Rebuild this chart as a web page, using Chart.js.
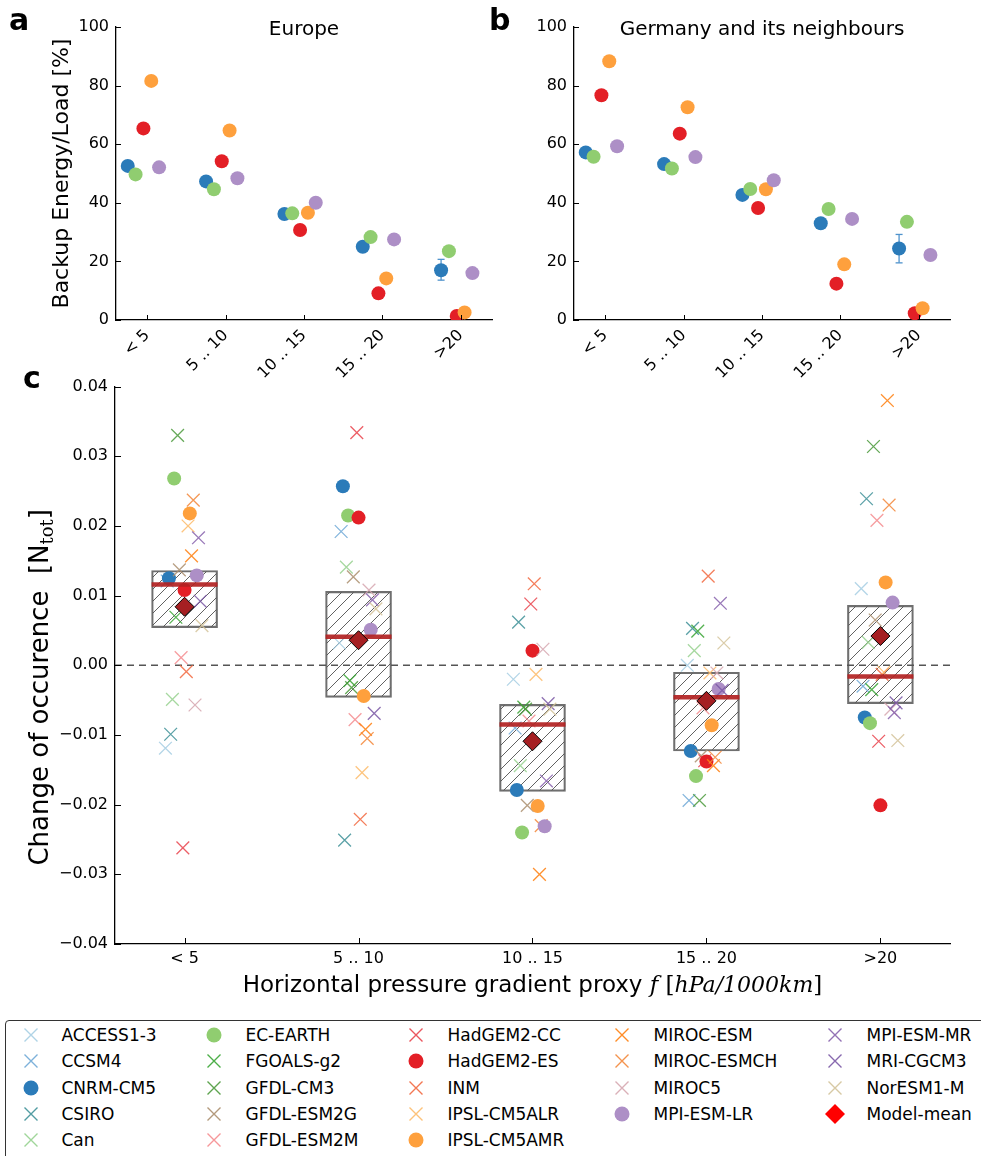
<!DOCTYPE html>
<html lang="en">
<head>
<meta charset="UTF-8">
<title>Backup energy and pressure gradient proxy</title>
<script src="https://cdn.jsdelivr.net/npm/chart.js@4.4.0/dist/chart.umd.min.js"></script>
<style>
  body { margin: 0; background: #fff; font-family: 'DejaVu Sans', sans-serif; }
  #page { position: relative; width: 981px; height: 1156px; overflow: hidden; }
  canvas.plot { position: absolute; }
  .letter { position: absolute; font-weight: bold; font-size: 30px; line-height: 30px; }
  #legend { position: absolute; left: 5px; top: 1020px; width: 990px; height: 150px;
            border: 1.5px solid #333; border-radius: 4px; box-sizing: border-box; }
  .leg-text { position: absolute; font-size: 17px; line-height: 20px; white-space: nowrap; color: #000; }
  .leg-mark { position: absolute; }
</style>
</head>
<body>
<div id="page">
  <canvas id="chartC" class="plot" width="981" height="640" style="left:0;top:370px"></canvas>
  <canvas id="chartA" class="plot" width="500" height="390" style="left:0;top:0"></canvas>
  <canvas id="chartB" class="plot" width="491" height="390" style="left:490px;top:0"></canvas>
  <div class="letter" style="left:9px;top:5px">a</div>
  <div class="letter" style="left:489px;top:5px">b</div>
  <div class="letter" style="left:23px;top:363px">c</div>
  <div id="legend"></div>
</div>

<script>
// ---- data ----
const catLabels = ['< 5', '5 .. 10', '10 .. 15', '15 .. 20', '>20'];

// panels a and b: models with backup energy values (%)
const backupModels = ['CNRM-CM5', 'EC-EARTH', 'HadGEM2-ES', 'IPSL-CM5AMR', 'MPI-ESM-LR'];
const europeBackup = [
  [52.6, 47.3, 36.2, 25.0, 17.0],
  [49.7, 44.6, 36.4, 28.3, 23.5],
  [65.4, 54.2, 30.7, 9.1, 1.4],
  [81.6, 64.7, 36.6, 14.2, 2.6],
  [52.1, 48.4, 40.0, 27.5, 16.0]
];
const germanyBackup = [
  [57.2, 53.2, 42.7, 33.0, 24.4],
  [55.7, 51.7, 44.7, 37.9, 33.5],
  [76.7, 63.6, 38.2, 12.4, 2.3],
  [88.3, 72.6, 44.6, 19.0, 4.0],
  [59.3, 55.6, 47.7, 34.5, 22.2]
];
// error bars (CNRM-CM5 only)
const europeErrLow  = [null, null, null, null, 13.6];
const europeErrHigh = [null, null, null, null, 20.7];
const germanyErrLow  = [null, null, null, null, 19.5];
const germanyErrHigh = [null, null, null, null, 29.2];

// panel c: change of occurrence per model
const models = ['ACCESS1-3', 'CCSM4', 'CNRM-CM5', 'CSIRO', 'Can', 'EC-EARTH', 'FGOALS-g2',
  'GFDL-CM3', 'GFDL-ESM2G', 'GFDL-ESM2M', 'HadGEM2-CC', 'HadGEM2-ES', 'INM', 'IPSL-CM5ALR',
  'IPSL-CM5AMR', 'MIROC-ESM', 'MIROC-ESMCH', 'MIROC5', 'MPI-ESM-LR', 'MPI-ESM-MR',
  'MRI-CGCM3', 'NorESM1-M'];
const occurrence = [
  [-0.0119, 0.0032, -0.0020, 0.0000, 0.0110],
  [0.0121, 0.0192, -0.0090, -0.0194, -0.0030],
  [0.0125, 0.0257, -0.0179, -0.0123, -0.0075],
  [-0.0099, -0.0251, 0.0062, 0.0053, 0.0239],
  [-0.0049, 0.0141, -0.0144, 0.0021, 0.0033],
  [0.0268, 0.0215, -0.0240, -0.0159, -0.0083],
  [0.0069, -0.0022, -0.0060, 0.0049, -0.0035],
  [0.0330, -0.0032, -0.0063, -0.0194, 0.0314],
  [0.0137, 0.0127, -0.0201, -0.0130, 0.0065],
  [0.0011, -0.0078, -0.0080, -0.0061, 0.0208],
  [-0.0262, 0.0334, 0.0088, -0.0137, -0.0109],
  [0.0108, 0.0212, 0.0021, -0.0138, -0.0201],
  [-0.0009, -0.0221, 0.0117, 0.0128, -0.0013],
  [0.0200, -0.0154, -0.0013, -0.0011, -0.0010],
  [0.0218, -0.0044, -0.0202, -0.0086, 0.0119],
  [0.0157, -0.0092, -0.0300, -0.0144, 0.0380],
  [0.0237, -0.0105, -0.0230, -0.0132, 0.0230],
  [-0.0057, 0.0108, 0.0023, -0.0011, -0.0063],
  [0.0129, 0.0051, -0.0231, -0.0034, 0.0090],
  [0.0183, 0.0094, -0.0166, 0.0089, -0.0068],
  [0.0092, -0.0069, -0.0055, -0.0036, -0.0054],
  [0.0057, 0.0081, -0.0063, 0.0032, -0.0108]
];
const boxQ1 = [0.0054, -0.0046, -0.0181, -0.0123, -0.0055];
const boxQ3 = [0.0136, 0.0106, -0.0056, -0.0010, 0.0086];
const boxMedian = [0.0116, 0.0041, -0.0085, -0.0046, -0.0016];
const modelMean = [0.0084, 0.0036, -0.0109, -0.0051, 0.0042];

// ---- styles ----
const modelColors = ['#a6cee3', '#6fa8d6', '#2b7bb9', '#3e9198', '#96d18f', '#90cd70', '#38a534',
  '#4b9a3c', '#ab8f6e', '#f58c8f', '#e9434c', '#e31f26', '#f2683f', '#fdbb6a', '#fea03d',
  '#ff7f0e', '#f3873a', '#d6a7b0', '#ad8fc6', '#8762ad', '#7a58a5', '#d3c39a'];
const circleModels = ['CNRM-CM5', 'EC-EARTH', 'HadGEM2-ES', 'IPSL-CM5AMR', 'MPI-ESM-LR'];
const SANS = "'DejaVu Sans', sans-serif";
const SERIF = "'DejaVu Serif', serif";

function rgba(hex, a) {
  const n = parseInt(hex.slice(1), 16);
  return `rgba(${n >> 16},${(n >> 8) & 255},${n & 255},${a})`;
}
function colorOf(name) { return modelColors[models.indexOf(name)]; }

function makeHatch() {
  const s = 12, c = document.createElement('canvas');
  c.width = s; c.height = s;
  const g = c.getContext('2d');
  g.strokeStyle = 'rgba(70,70,70,0.85)';
  g.lineWidth = 1;
  g.beginPath();
  g.moveTo(0, s); g.lineTo(s, 0);
  g.moveTo(-s / 2, s / 2); g.lineTo(s / 2, -s / 2);
  g.moveTo(s / 2, s * 1.5); g.lineTo(s * 1.5, s / 2);
  g.stroke();
  return g.createPattern(c, 'repeat');
}

// draw text made of several font runs, centered at (cx, cy)
function drawRich(ctx, parts, cx, cy) {
  let w = 0;
  parts.forEach(p => { ctx.font = p.font; p.w = ctx.measureText(p.t).width; w += p.w; });
  let x = cx - w / 2;
  ctx.textBaseline = 'alphabetic';
  ctx.textAlign = 'left';
  parts.forEach(p => { ctx.font = p.font; ctx.fillText(p.t, x, cy + (p.dy || 0)); x += p.w; });
}

const inwardTicks = {
  id: 'inwardTicks',
  afterDatasetsDraw(chart, args, opts) {
    const { ctx, chartArea: a, scales: { x, y } } = chart;
    const len = opts.length || 5;
    ctx.save();
    ctx.strokeStyle = '#000';
    ctx.lineWidth = 1;
    ctx.beginPath();
    x.ticks.forEach(t => {
      const px = Math.round(x.getPixelForValue(t.value)) + 0.5;
      ctx.moveTo(px, a.bottom); ctx.lineTo(px, a.bottom - len);
    });
    y.ticks.forEach(t => {
      const py = Math.round(y.getPixelForValue(t.value)) + 0.5;
      ctx.moveTo(a.left, py); ctx.lineTo(a.left + len, py);
    });
    ctx.stroke();
    ctx.restore();
  }
};

const catAxis = (fit, rotate) => ({
  type: 'linear', min: -0.4, max: 4.4, offset: false,
  afterBuildTicks: axis => { axis.ticks = catLabels.map((_, i) => ({ value: i })); },
  afterFit: s => { s.height = fit; },
  grid: { display: true, drawOnChartArea: false, drawTicks: false, offset: false },
  border: { display: true, color: '#000', width: 1.3 },
  ticks: {
    color: '#000', font: { family: SANS, size: 16 }, padding: rotate ? 6 : 5,
    minRotation: rotate ? 45 : 0, maxRotation: rotate ? 45 : 0, autoSkip: false,
    callback: v => catLabels[v]
  }
});

function backupChart(id, values, errLow, errHigh, title, yTitle, yWidth, padRight) {
  const datasets = [];
  backupModels.forEach((name, j) => {
    datasets.push({
      label: name,
      data: values[j].map((v, c) => ({ x: c + (j - 2.5) * 0.1, y: v })),
      pointStyle: 'circle', pointRadius: 7,
      pointBackgroundColor: colorOf(name), pointBorderWidth: 0,
      order: 50 - j
    });
  });
  // error bars for the first model
  errLow.forEach((lo, c) => {
    if (lo === null) return;
    datasets.push({
      type: 'line', showLine: true,
      data: [{ x: c - 0.25, y: lo }, { x: c - 0.25, y: errHigh[c] }],
      borderColor: '#4f93cc', borderWidth: 1.3,
      pointStyle: 'line', pointRadius: 3.5, pointBorderColor: '#4f93cc', pointBorderWidth: 1.3,
      order: 100
    });
  });

  const labels = {
    id: 'panelText',
    afterDraw(chart) {
      const { ctx, chartArea: a } = chart;
      ctx.save();
      ctx.fillStyle = '#000';
      drawRich(ctx, [{ t: title, font: `20px ${SANS}` }], (a.left + a.right) / 2, a.top + 8);
      if (yTitle) {
        ctx.translate(a.left - 56, (a.top + a.bottom) / 2);
        ctx.rotate(-Math.PI / 2);
        drawRich(ctx, [{ t: yTitle, font: `22px ${SANS}` }], 0, 8);
      }
      ctx.restore();
    }
  };

  return new Chart(document.getElementById(id), {
    type: 'scatter',
    data: { datasets },
    options: {
      responsive: false, animation: false, events: [],
      layout: { autoPadding: false, padding: { left: 0, right: padRight, top: 27, bottom: 0 } },
      plugins: { legend: { display: false }, tooltip: { enabled: false }, inwardTicks: { length: 5 } },
      scales: {
        x: catAxis(70, true),
        y: {
          min: 0, max: 100,
          afterFit: s => { s.width = yWidth; },
          grid: { display: true, drawOnChartArea: false, drawTicks: false },
          border: { display: true, color: '#000', width: 1.3 },
          ticks: { stepSize: 20, color: '#000', font: { family: SANS, size: 16 }, padding: 7 }
        }
      }
    },
    plugins: [inwardTicks, labels]
  });
}

backupChart('chartA', europeBackup, europeErrLow, europeErrHigh, 'Europe', 'Backup Energy/Load [%]', 116, 8);
backupChart('chartB', germanyBackup, germanyErrLow, germanyErrHigh, 'Germany and its neighbours', null, 84, 31);

// ---- panel c ----
const cSets = models.map((name, i) => {
  const isCircle = circleModels.includes(name);
  return {
    label: name,
    data: occurrence[i].map((v, c) => ({ x: c + (i - 11) * 0.01, y: v })),
    pointStyle: isCircle ? 'circle' : 'crossRot',
    pointRadius: isCircle ? 7 : 9,
    pointBackgroundColor: modelColors[i],
    pointBorderColor: isCircle ? modelColors[i] : rgba(modelColors[i], 0.85),
    pointBorderWidth: isCircle ? 0 : 1.3,
    order: 100 - i
  };
});
cSets.push({
  type: 'bar', label: 'box',
  data: boxQ1.map((lo, c) => ({ x: c, y: [lo, boxQ3[c]] })),
  backgroundColor: makeHatch(), borderColor: 'rgba(95,95,95,0.9)', borderWidth: 1.5,
  borderSkipped: false, barThickness: 66, grouped: false, order: 300
});
cSets.push({
  type: 'line', label: 'zero', showLine: true,
  data: [{ x: -0.4, y: 0 }, { x: 4.4, y: 0 }],
  borderColor: '#555', borderWidth: 1.6, borderDash: [7, 5], pointRadius: 0, order: 200
});
cSets.push({
  label: 'median',
  data: boxMedian.map((v, c) => ({ x: c, y: v })),
  pointStyle: 'line', pointRadius: 33,
  pointBorderColor: 'rgba(178,34,34,0.92)', pointBorderWidth: 4.5, order: 2
});
cSets.push({
  label: 'Model-mean',
  data: modelMean.map((v, c) => ({ x: c, y: v })),
  pointStyle: 'rectRot', pointRadius: 9.5,
  pointBackgroundColor: '#a51f22', pointBorderColor: '#000', pointBorderWidth: 1, order: 1
});

const cText = {
  id: 'cText',
  afterDraw(chart) {
    const { ctx, chartArea: a } = chart;
    ctx.save();
    ctx.fillStyle = '#000';
    drawRich(ctx, [
      { t: 'Horizontal pressure gradient proxy ', font: `23px ${SANS}` },
      { t: 'f', font: `italic 23px ${SERIF}` },
      { t: ' [', font: `23px ${SERIF}` },
      { t: 'hPa/1000km', font: `italic 22px ${SERIF}` },
      { t: ']', font: `23px ${SERIF}` }
    ], (a.left + a.right) / 2, a.bottom + 48);
    ctx.translate(a.left - 76, (a.top + a.bottom) / 2 + 22);
    ctx.rotate(-Math.PI / 2);
    drawRich(ctx, [
      { t: 'Change of occurence  [', font: `26px ${SANS}` },
      { t: 'N', font: `26px ${SANS}` },
      { t: 'tot', font: `18px ${SERIF}`, dy: 5 },
      { t: ']', font: `26px ${SANS}` }
    ], 0, 9);
    ctx.restore();
  }
};

new Chart(document.getElementById('chartC'), {
  type: 'scatter',
  data: { datasets: cSets },
  options: {
    responsive: false, animation: false, events: [],
    layout: { autoPadding: false, padding: { left: 0, right: 31, top: 14, bottom: 0 } },
    plugins: { legend: { display: false }, tooltip: { enabled: false }, inwardTicks: { length: 6 } },
    scales: {
      x: catAxis(66, false),
      y: {
        min: -0.04, max: 0.04,
        afterFit: s => { s.width = 115; },
        grid: { display: true, drawOnChartArea: false, drawTicks: false },
        border: { display: true, color: '#000', width: 1.3 },
        ticks: {
          stepSize: 0.01, color: '#000', font: { family: SANS, size: 16 }, padding: 7,
          callback: v => (v < -1e-9 ? '\u2212' : '') + Math.abs(v).toFixed(2)
        }
      }
    }
  },
  plugins: [inwardTicks, cText]
});

// ---- legend (column-major, 5 columns) ----
const legendItems = models.map((name, i) => ({
  name, color: modelColors[i], style: circleModels.includes(name) ? 'circle' : 'cross'
}));
legendItems.push({ name: 'Model-mean', color: '#ff0000', style: 'diamond' });
const colSizes = [5, 5, 5, 4, 4];
const markX = [31, 214, 416, 622, 835];
const textX = [62, 246, 448, 654, 867];
const legend = document.getElementById('legend');
const legLeft = 5 + 1.5, legTop = 1020 + 1.5;
let k = 0;
colSizes.forEach((n, col) => {
  for (let row = 0; row < n; row++, k++) {
    const it = legendItems[k];
    const cy = 1035.5 + row * 26.3;
    const cv = document.createElement('canvas');
    cv.width = 24; cv.height = 24; cv.className = 'leg-mark';
    cv.style.left = (markX[col] - 12 - legLeft) + 'px';
    cv.style.top = (cy - 12 - legTop) + 'px';
    const g = cv.getContext('2d');
    if (it.style === 'circle') {
      g.fillStyle = it.color; g.beginPath(); g.arc(12, 12, 7.5, 0, Math.PI * 2); g.fill();
    } else if (it.style === 'cross') {
      g.strokeStyle = rgba(it.color, 0.9); g.lineWidth = 1.4; g.beginPath();
      g.moveTo(5.5, 5.5); g.lineTo(18.5, 18.5); g.moveTo(18.5, 5.5); g.lineTo(5.5, 18.5); g.stroke();
    } else {
      g.fillStyle = it.color; g.beginPath();
      g.moveTo(12, 2); g.lineTo(22, 12); g.lineTo(12, 22); g.lineTo(2, 12); g.closePath(); g.fill();
    }
    legend.appendChild(cv);
    const sp = document.createElement('div');
    sp.className = 'leg-text';
    sp.textContent = it.name;
    sp.style.left = (textX[col] - legLeft) + 'px';
    sp.style.top = (cy - 10 - legTop) + 'px';
    legend.appendChild(sp);
  }
});
</script>
</body>
</html>
